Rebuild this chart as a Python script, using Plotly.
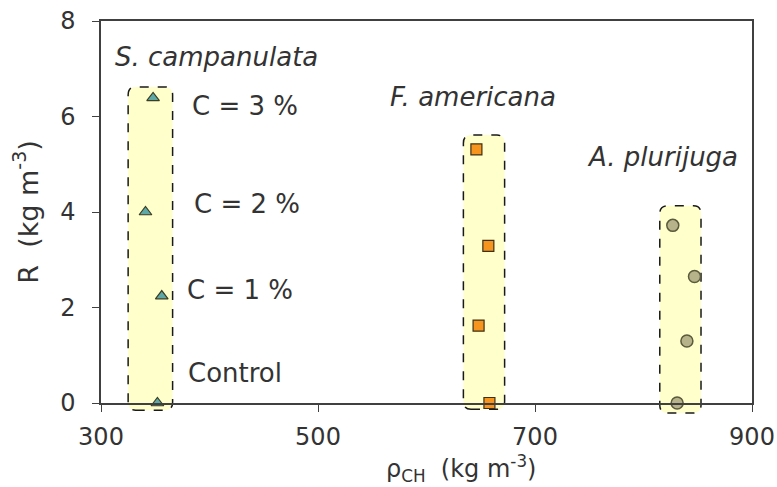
import plotly.graph_objects as go

# ---- data ----
species = ["S. campanulata", "F. americana", "A. plurijuga"]
camp_rho = [352, 356, 341, 348]
camp_R = [0.0, 2.24, 4.0, 6.39]
amer_rho = [658, 648, 657, 646]
amer_R = [0.0, 1.62, 3.29, 5.31]
plur_rho = [831, 840, 847, 827]
plur_R = [0.0, 1.30, 2.65, 3.72]
concentration_labels = ["Control", "C = 1 %", "C = 2 %", "C = 3 %"]
x_ticks = [300, 500, 700, 900]
y_ticks = [0, 2, 4, 6, 8]

# group boxes (rho_min, rho_max, R_min, R_max)
box_rho_min = [325, 634, 815]
box_rho_max = [366, 672, 853]
box_R_min = [-0.15, -0.13, -0.21]
box_R_max = [6.62, 5.61, 4.13]

FONT = "DejaVu Sans"
TXT = "#333333"
Y_MAX = 8.0

fig = go.Figure()

fig.add_trace(go.Scatter(
    x=camp_rho, y=camp_R, mode="markers", name=species[0], cliponaxis=False,
    marker=dict(symbol="triangle-up", size=11, color="#5ea9a8",
                line=dict(color="#3d3d22", width=1.2))))
fig.add_trace(go.Scatter(
    x=amer_rho, y=amer_R, mode="markers", name=species[1], cliponaxis=False,
    marker=dict(symbol="square", size=11, color="#f7941d",
                line=dict(color="#3d3015", width=1.2))))
fig.add_trace(go.Scatter(
    x=plur_rho, y=plur_R, mode="markers", name=species[2], cliponaxis=False,
    marker=dict(symbol="circle", size=12, color="#b6b38b",
                line=dict(color="#5a5a3c", width=1.5))))

# rounded dashed boxes around each species group
rx = 7.0
ry = 0.021
for x0, x1, r0, r1 in zip(box_rho_min, box_rho_max, box_R_min, box_R_max):
    y0 = r0 / Y_MAX
    y1 = r1 / Y_MAX
    path = (f"M {x0+rx},{y0} L {x1-rx},{y0} Q {x1},{y0} {x1},{y0+ry} "
            f"L {x1},{y1-ry} Q {x1},{y1} {x1-rx},{y1} L {x0+rx},{y1} "
            f"Q {x0},{y1} {x0},{y1-ry} L {x0},{y0+ry} Q {x0},{y0} {x0+rx},{y0} Z")
    fig.add_shape(type="path", path=path, xref="x", yref="paper", layer="below",
                  fillcolor="#ffffcc", line=dict(color="#1a1a1a", width=1.5, dash="dash"))

ann_font = dict(family=FONT, size=26, color=TXT)
# species labels
for name, x, y in zip(species, [311, 564.5, 746], [7.25, 6.41, 5.15]):
    fig.add_annotation(x=x, y=y, text=f"<i>{name}</i>", showarrow=False,
                       xanchor="left", yanchor="middle", font=ann_font)
# concentration labels
for lab, x, y in zip(concentration_labels, [378, 377.4, 384, 382], [0.63, 2.37, 4.17, 6.22]):
    fig.add_annotation(x=x, y=y, text=lab, showarrow=False,
                       xanchor="left", yanchor="middle", font=ann_font)

# x-axis title (placed off-centre as in the original)
fig.add_annotation(xref="paper", yref="paper", x=0.553, y=-0.171,
                   text="ρ<sub>CH</sub>  (kg m<sup>-3</sup>)", showarrow=False,
                   xanchor="center", yanchor="middle",
                   font=dict(family=FONT, size=24, color=TXT))

axis_common = dict(showline=True, linecolor="#404040", linewidth=1.5, mirror=True,
                   ticks="outside", ticklen=7, tickcolor="#404040", tickwidth=1.2,
                   showgrid=False, zeroline=False, automargin=False,
                   tickfont=dict(family=FONT, size=24, color=TXT))

fig.update_xaxes(range=[300, 900], tickvals=x_ticks, ticklabelstandoff=4,
                 **axis_common)
fig.update_yaxes(range=[0, 8], tickvals=y_ticks, ticklabelstandoff=12,
                 title=dict(text="R  (kg m<sup>-3</sup>)", standoff=14,
                            font=dict(family=FONT, size=27, color=TXT)),
                 **axis_common)

fig.update_layout(width=777, height=487, margin=dict(l=101, r=25, t=21, b=84),
                  plot_bgcolor="white", paper_bgcolor="white", showlegend=False)

fig.write_html("out.html")
